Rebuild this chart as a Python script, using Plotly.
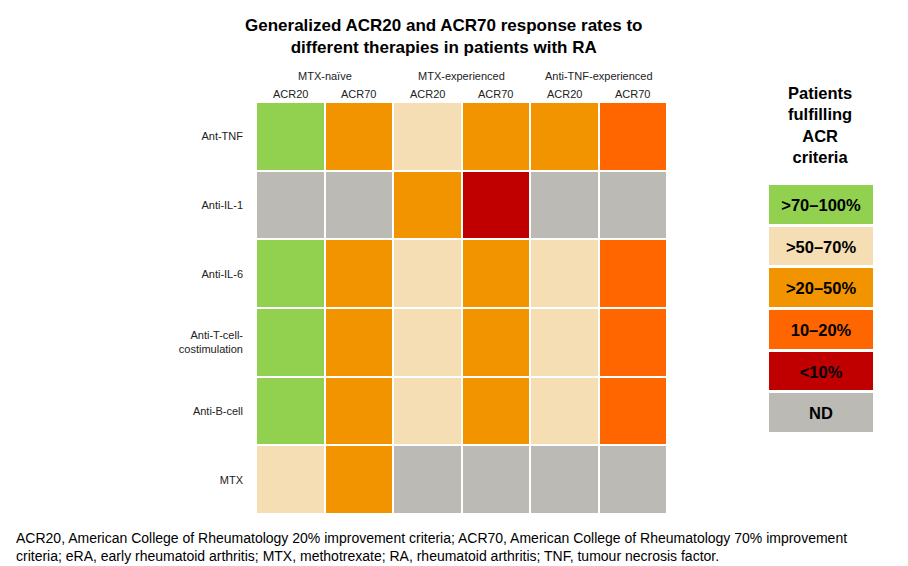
import plotly.graph_objects as go

# ---- data ----
therapies = ["Ant-TNF", "Anti-IL-1", "Anti-IL-6", "Anti-T-cell-<br>costimulation", "Anti-B-cell", "MTX"]
groups = ["MTX-naïve", "MTX-experienced", "Anti-TNF-experienced"]
measures = ["ACR20", "ACR70", "ACR20", "ACR70", "ACR20", "ACR70"]
category_labels = ["ND", "<10%", "10–20%", ">20–50%", ">50–70%", ">70–100%"]
category_colors = ["#BCBAB5", "#C00000", "#FF6600", "#F29400", "#F5DEB4", "#92D050"]
# category codes: 0=ND, 1=<10%, 2=10-20%, 3=>20-50%, 4=>50-70%, 5=>70-100%
response = [
    [5, 3, 4, 3, 3, 2],
    [0, 0, 3, 1, 0, 0],
    [5, 3, 4, 3, 4, 2],
    [5, 3, 4, 3, 4, 2],
    [5, 3, 4, 3, 4, 2],
    [4, 3, 0, 0, 0, 0],
]
legend_order = [5, 4, 3, 2, 1, 0]

n = len(category_colors)
colorscale = []
for i, c in enumerate(category_colors):
    colorscale.append([i / n, c])
    colorscale.append([(i + 1) / n, c])

# page body has an 8px margin; figure is sized to fit the 908x566 window
OFF = 8
W, H = 908 - OFF, 566 - OFF
FONT = "Liberation Sans, Arial, sans-serif"


def px(x):
    return (x - OFF) / W


def py(y):
    return 1 - (y - OFF) / H


fig = go.Figure()
cols = list(range(len(measures)))
rows = list(range(len(therapies)))
fig.add_trace(go.Heatmap(
    z=response, x=cols, y=rows,
    colorscale=colorscale, zmin=-0.5, zmax=n - 0.5,
    showscale=False, xgap=2, ygap=2, hoverinfo="skip",
    xaxis="x", yaxis="y",
))

# legend as a single-column heatmap
fig.add_trace(go.Heatmap(
    z=[[c] for c in legend_order], x=[0], y=list(range(len(legend_order))),
    text=[[category_labels[c]] for c in legend_order],
    texttemplate="<b>%{text}</b>",
    textfont=dict(family=FONT, size=16.5, color="black"),
    colorscale=colorscale, zmin=-0.5, zmax=n - 0.5,
    showscale=False, ygap=3, hoverinfo="skip",
    xaxis="x2", yaxis="y2",
))

annotations = []
# column labels
for i, m in enumerate(measures):
    annotations.append(dict(x=i, y=py(94), xref="x", yref="paper", text=m,
                            showarrow=False, font=dict(family=FONT, size=11, color="#222"),
                            xanchor="center", yanchor="middle"))
for g, name in enumerate(groups):
    annotations.append(dict(x=2 * g + 0.5, y=py(76), xref="x", yref="paper", text=name,
                            showarrow=False, font=dict(family=FONT, size=11, color="#222"),
                            xanchor="center", yanchor="middle"))
# title
annotations.append(dict(x=px(443), y=py(36), xref="paper", yref="paper",
                        text="<b>Generalized ACR20 and ACR70 response rates to<br>different therapies in patients with RA</b>",
                        showarrow=False, font=dict(family=FONT, size=17, color="black"),
                        xanchor="center", yanchor="middle", align="center"))
# legend title
annotations.append(dict(x=px(820), y=py(125), xref="paper", yref="paper",
                        text="<b>Patients<br>fulfilling<br>ACR<br>criteria</b>",
                        showarrow=False, font=dict(family=FONT, size=16.5, color="black"),
                        xanchor="center", yanchor="middle", align="center"))
# footnote
annotations.append(dict(x=px(14), y=py(547), xref="paper", yref="paper",
                        text="ACR20, American College of Rheumatology 20% improvement criteria; ACR70, American College of Rheumatology 70% improvement<br>criteria; eRA, early rheumatoid arthritis; MTX, methotrexate; RA, rheumatoid arthritis; TNF, tumour necrosis factor.",
                        showarrow=False, font=dict(family=FONT, size=14, color="black"),
                        xanchor="left", yanchor="middle", align="left"))

fig.update_layout(
    width=W, height=H,
    margin=dict(l=0, r=0, t=0, b=0),
    paper_bgcolor="white", plot_bgcolor="white",
    font=dict(family=FONT, size=11, color="#222"),
    xaxis=dict(domain=[px(256), px(667)], range=[-0.5, 5.5], showticklabels=False,
               showgrid=False, zeroline=False, fixedrange=True),
    yaxis=dict(domain=[py(514), py(102)], range=[5.5, -0.5],
               tickvals=rows, ticktext=therapies, ticks="", ticklabelstandoff=12,
               showgrid=False, zeroline=False, tickfont=dict(family=FONT, size=11, color="#222")),
    xaxis2=dict(domain=[px(769), px(873)], range=[-0.5, 0.5], showticklabels=False,
                showgrid=False, zeroline=False, anchor="y2"),
    yaxis2=dict(domain=[py(434), py(184)], range=[5.5, -0.5], showticklabels=False,
                showgrid=False, zeroline=False, anchor="x2"),
    annotations=annotations,
)

fig.write_html("out.html")
